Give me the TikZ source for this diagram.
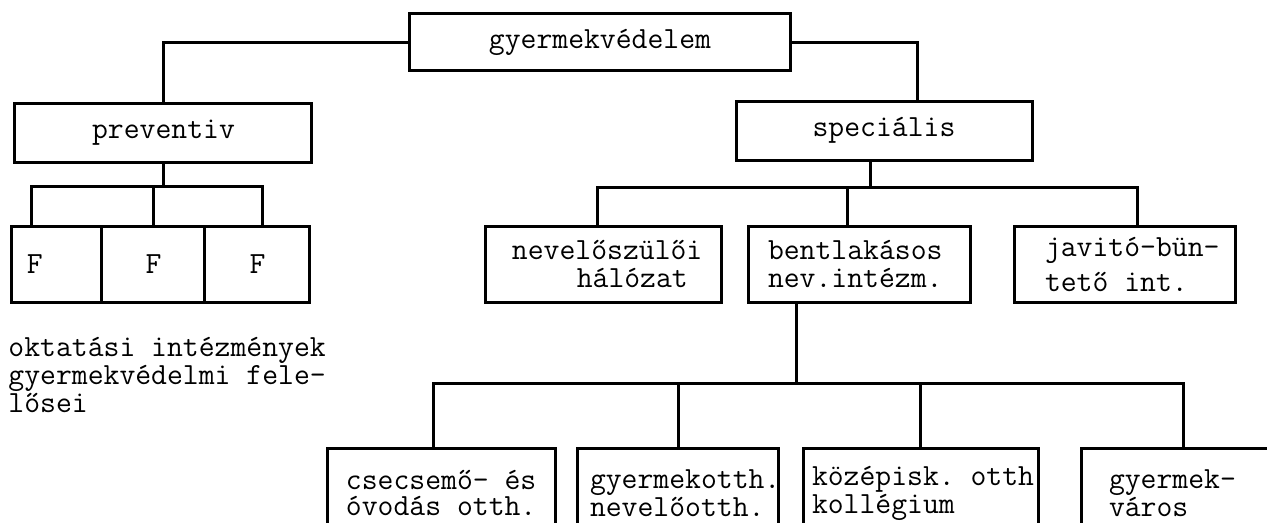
\documentclass[tikz,border=0pt]{standalone}
\usepackage{fontspec}
\usepackage{tikz}
\usetikzlibrary{calc,backgrounds}
\hyphenpenalty=10000
\exhyphenpenalty=10000
\tikzstyle{chart}=[
  font=\fontsize{15.4bp}{14bp}\ttfamily\selectfont,line width=1.5bp
]
\tikzstyle{unit}=[
  draw,rectangle,inner sep=0pt,outer sep=0pt,fill=white,line width=1.5bp
]
\tikzstyle{leftunit}=[
  unit,align=flush left
]
\tikzstyle{lowunit}=[
  leftunit,minimum height=45bp,font=\fontsize{15.4bp}{13bp}\ttfamily\selectfont
]
\tikzstyle{link}=[
  line width=1.5bp
]

\begin{document}
\begin{tikzpicture}[chart]
    \useasboundingbox (-300bp,21bp) rectangle (333.5bp,-240.5bp);
    \clip (-300bp,21bp) rectangle (333.5bp,-240.5bp);
    \node (root) at (0bp,0bp) [unit,minimum width=190bp,minimum height=28bp] {gyermekvédelem};
    \node (prev) at ($(root) + (-218.25bp, -45.25bp)$) [unit,minimum width=148.5bp,minimum height=29.5bp] {preventiv};
    \node (spec) at ($(root) + (142bp, -44.25bp)$) [unit,minimum width=148bp,minimum height=29.5bp] {speciális};
    % felelosok
    \node (f1) at ($(root) + (-271.5bp, -111bp)$) [leftunit,minimum height=38bp,inner xsep=7.5bp,text width=30bp] {F};
    \node (f2) at ($(root) + (-223.25bp, -111bp)$) [unit,minimum width=51.5bp,minimum height=38bp] {F};
    \node (f3) at ($(root) + (-171.25bp, -111bp)$) [unit,minimum width=52.5bp,minimum height=38bp] {F};
    \node (note) at ($(root) + (-296.5bp, -166.5bp)$) [anchor=west,align=left,inner sep=0pt] {oktatási intézmények\\gyermekvédelmi fele-\\lősei};
    % specialis ag
    \node (nev) at ($(root) + (1.75bp, -111bp)$) [leftunit,minimum height=38bp,inner xsep=13bp,text width=91.5bp] {nevelőszülői\\\hspace*{32.4bp}hálózat};
    \node (bent) at ($(root) + (129.5bp, -111bp)$) [leftunit,minimum height=38bp,inner xsep=10bp,text width=91bp] {bentlakásos\\nev.intézm.};
    \node (jav) at ($(root) + (262.25bp, -111bp)$) [leftunit,minimum height=38bp,inner xsep=15.5bp,text width=79.5bp] {javitó-bün-\\[3.5bp]tető~int.};
    \node (b1) at ($(root) + (-79bp, -225.5bp)$) [lowunit,inner xsep=9bp,text width=96bp] {csecsemő-~és\\óvodás~otth.};
    \node (b2) at ($(root) + (39bp, -225.5bp)$) [lowunit,inner xsep=6bp,text width=88bp] {gyermekotth.\\nevelőotth.};
    \node (b3) at ($(root) + (160.25bp, -225.5bp)$) [lowunit,inner xsep=4.5bp,text width=108.5bp] {középisk.~otth\\kollégium};
    \node (b4) at ($(root) + (297.75bp, -225.5bp)$) [lowunit,inner xsep=14bp,text width=86.5bp] {gyermek-\\város};
    \coordinate (pbar) at ($(prev.south) + (0bp, -12bp)$);
    \coordinate (sbar) at ($(spec.south) + (-7bp, -13.5bp)$);
    \coordinate (bbar) at ($(bent.south) + (-31.5bp, -40.5bp)$);
    \begin{scope}[on background layer]
      \draw [link] (root.west) -| (prev.north);
      \draw [link] (root.east) -| ([xshift=16.5bp]spec.north);
      \draw [link] (prev.south) -- (pbar);
      \draw [link] ([xshift=-12.5bp]f1.north) |- (pbar) -| ([xshift=2.5bp]f3.north);
      \draw [link] (f2.north) -- (f2.north |- pbar);
      \draw [link] ([xshift=-7bp]spec.south) -- (sbar);
      \draw [link] ([xshift=-3.25bp]nev.north) |- (sbar) -| ([xshift=6.25bp]jav.north);
      \draw [link] ([xshift=-6bp]bent.north) -- ([xshift=-6bp]bent.north |- sbar);
      \draw [link] ([xshift=-31.5bp]bent.south) -- (bbar);
      \draw [link] ([xshift=-4bp]b1.north) |- (bbar) -| ([xshift=-6.25bp]b4.north);
      \draw [link] (b2.north) -- (b2.north |- bbar);
      \draw [link] (b3.north) -- (b3.north |- bbar);
    \end{scope}
\end{tikzpicture}
\end{document}
